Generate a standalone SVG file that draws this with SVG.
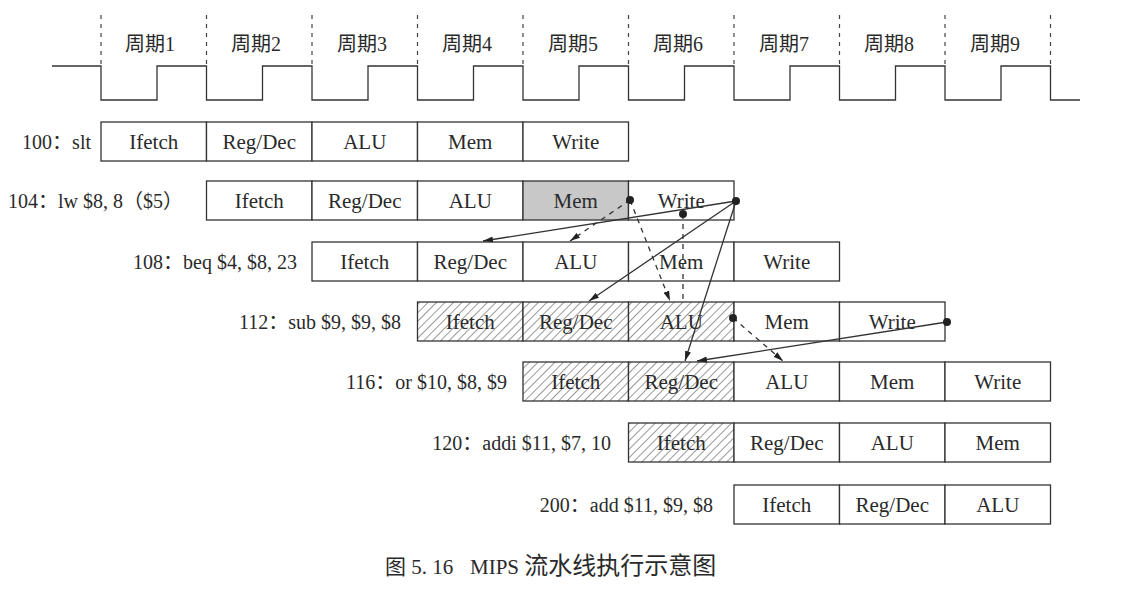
<svg xmlns="http://www.w3.org/2000/svg" width="1136" height="595" viewBox="0 0 1136 595">
<defs>
<style>
.cell{fill:#fff;stroke:#333;stroke-width:1.3}
.hat{fill:url(#hatch);stroke:#333;stroke-width:1.3}
.gray{fill:#c8c8c8;stroke:#333;stroke-width:1.3}
.t{font-family:"Liberation Serif","Noto Sans CJK SC",serif;font-size:21px;fill:#2a2a2a;text-anchor:middle}
.lbl{font-family:"Liberation Serif","Noto Sans CJK SC",serif;font-size:20px;fill:#2a2a2a;text-anchor:end}
.cyc{font-family:"Liberation Serif","Noto Sans CJK SC",serif;font-size:20px;fill:#2a2a2a;text-anchor:middle}
.cap{font-family:"Liberation Serif","Noto Sans CJK SC",serif;font-size:21px;fill:#2a2a2a}
.clk{fill:none;stroke:#333;stroke-width:1.3}
.grid{stroke:#444;stroke-width:1.2;stroke-dasharray:4 5}
.sol{stroke:#333;stroke-width:1.3;fill:none;marker-end:url(#ah)}
.dsh{stroke:#333;stroke-width:1.3;fill:none;stroke-dasharray:5 5;marker-end:url(#ah)}
.dshn{stroke:#333;stroke-width:1.3;fill:none;stroke-dasharray:5 5}
.dot{fill:#222}
</style>
<pattern id="hatch" width="6" height="6" patternUnits="userSpaceOnUse" patternTransform="rotate(45)"><rect width="6" height="6" fill="#fff"/><line x1="0" y1="0" x2="0" y2="6" stroke="#444" stroke-width="1.1"/></pattern>
<marker id="ah" viewBox="0 0 10 7" refX="10" refY="3.5" markerWidth="10" markerHeight="7" markerUnits="userSpaceOnUse" orient="auto"><path d="M0,0.5 L10,3.5 L0,6.5 z" fill="#222"/></marker>
</defs>
<rect width="1136" height="595" fill="#fff"/>

<g id="clock">
<g class="grid">
<line x1="101" y1="15" x2="101" y2="66"/>
<line x1="206.5" y1="15" x2="206.5" y2="66"/>
<line x1="312" y1="15" x2="312" y2="66"/>
<line x1="417.5" y1="15" x2="417.5" y2="66"/>
<line x1="523" y1="15" x2="523" y2="66"/>
<line x1="628.5" y1="15" x2="628.5" y2="66"/>
<line x1="734" y1="15" x2="734" y2="66"/>
<line x1="839.5" y1="15" x2="839.5" y2="66"/>
<line x1="945" y1="15" x2="945" y2="66"/>
<line x1="1050.5" y1="15" x2="1050.5" y2="66"/>
</g>
<polyline class="clk" points="52,66 101,66 101,100 157,100 157,66 206.5,66 206.5,100 262.5,100 262.5,66 312,66 312,100 368,100 368,66 417.5,66 417.5,100 473.5,100 473.5,66 523,66 523,100 579,100 579,66 628.5,66 628.5,100 684.5,100 684.5,66 734,66 734,100 790,100 790,66 839.5,66 839.5,100 895.5,100 895.5,66 945,66 945,100 1001,100 1001,66 1050.5,66 1050.5,100 1080,100"/>
<text class="cyc" x="150" y="51">周期1</text>
<text class="cyc" x="256" y="51">周期2</text>
<text class="cyc" x="362" y="51">周期3</text>
<text class="cyc" x="467" y="51">周期4</text>
<text class="cyc" x="573" y="51">周期5</text>
<text class="cyc" x="678" y="51">周期6</text>
<text class="cyc" x="784" y="51">周期7</text>
<text class="cyc" x="889" y="51">周期8</text>
<text class="cyc" x="995" y="51">周期9</text>
</g>

<g id="instr-100">
<text class="lbl" x="91" y="149">100：slt</text>
<rect class="cell" x="101" y="122" width="105.5" height="39"/>
<rect class="cell" x="206.5" y="122" width="105.5" height="39"/>
<rect class="cell" x="312" y="122" width="105.5" height="39"/>
<rect class="cell" x="417.5" y="122" width="105.5" height="39"/>
<rect class="cell" x="523" y="122" width="105.5" height="39"/>
<text class="t" x="153.75" y="149">Ifetch</text>
<text class="t" x="259.25" y="149">Reg/Dec</text>
<text class="t" x="364.75" y="149">ALU</text>
<text class="t" x="470.25" y="149">Mem</text>
<text class="t" x="575.75" y="149">Write</text>
</g>

<g id="instr-104">
<text class="lbl" x="183" y="208">104：lw $8, 8（$5）</text>
<rect class="cell" x="206.5" y="181" width="105.5" height="39"/>
<rect class="cell" x="312" y="181" width="105.5" height="39"/>
<rect class="cell" x="417.5" y="181" width="105.5" height="39"/>
<rect class="gray" x="523" y="181" width="105.5" height="39"/>
<rect class="cell" x="628.5" y="181" width="105.5" height="39"/>
<text class="t" x="259.25" y="208">Ifetch</text>
<text class="t" x="364.75" y="208">Reg/Dec</text>
<text class="t" x="470.25" y="208">ALU</text>
<text class="t" x="575.75" y="208">Mem</text>
<text class="t" x="681.25" y="208">Write</text>
</g>

<g id="instr-108">
<text class="lbl" x="297" y="269">108：beq $4, $8, 23</text>
<rect class="cell" x="312" y="242" width="105.5" height="39"/>
<rect class="cell" x="417.5" y="242" width="105.5" height="39"/>
<rect class="cell" x="523" y="242" width="105.5" height="39"/>
<rect class="cell" x="628.5" y="242" width="105.5" height="39"/>
<rect class="cell" x="734" y="242" width="105.5" height="39"/>
<text class="t" x="364.75" y="269">Ifetch</text>
<text class="t" x="470.25" y="269">Reg/Dec</text>
<text class="t" x="575.75" y="269">ALU</text>
<text class="t" x="681.25" y="269">Mem</text>
<text class="t" x="786.75" y="269">Write</text>
</g>

<g id="instr-112">
<text class="lbl" x="401" y="329">112：sub $9, $9, $8</text>
<rect class="hat" x="417.5" y="302" width="105.5" height="39"/>
<rect class="hat" x="523" y="302" width="105.5" height="39"/>
<rect class="hat" x="628.5" y="302" width="105.5" height="39"/>
<rect class="cell" x="734" y="302" width="105.5" height="39"/>
<rect class="cell" x="839.5" y="302" width="105.5" height="39"/>
<text class="t" x="470.25" y="329">Ifetch</text>
<text class="t" x="575.75" y="329">Reg/Dec</text>
<text class="t" x="681.25" y="329">ALU</text>
<text class="t" x="786.75" y="329">Mem</text>
<text class="t" x="892.25" y="329">Write</text>
</g>

<g id="instr-116">
<text class="lbl" x="507" y="389">116：or $10, $8, $9</text>
<rect class="hat" x="523" y="362" width="105.5" height="39"/>
<rect class="hat" x="628.5" y="362" width="105.5" height="39"/>
<rect class="cell" x="734" y="362" width="105.5" height="39"/>
<rect class="cell" x="839.5" y="362" width="105.5" height="39"/>
<rect class="cell" x="945" y="362" width="105.5" height="39"/>
<text class="t" x="575.75" y="389">Ifetch</text>
<text class="t" x="681.25" y="389">Reg/Dec</text>
<text class="t" x="786.75" y="389">ALU</text>
<text class="t" x="892.25" y="389">Mem</text>
<text class="t" x="997.75" y="389">Write</text>
</g>

<g id="instr-120">
<text class="lbl" x="611" y="450">120：addi $11, $7, 10</text>
<rect class="hat" x="628.5" y="423" width="105.5" height="39"/>
<rect class="cell" x="734" y="423" width="105.5" height="39"/>
<rect class="cell" x="839.5" y="423" width="105.5" height="39"/>
<rect class="cell" x="945" y="423" width="105.5" height="39"/>
<text class="t" x="681.25" y="450">Ifetch</text>
<text class="t" x="786.75" y="450">Reg/Dec</text>
<text class="t" x="892.25" y="450">ALU</text>
<text class="t" x="997.75" y="450">Mem</text>
</g>

<g id="instr-200">
<text class="lbl" x="713" y="512">200：add $11, $9, $8</text>
<rect class="cell" x="734" y="485" width="105.5" height="39"/>
<rect class="cell" x="839.5" y="485" width="105.5" height="39"/>
<rect class="cell" x="945" y="485" width="105.5" height="39"/>
<text class="t" x="786.75" y="512">Ifetch</text>
<text class="t" x="892.25" y="512">Reg/Dec</text>
<text class="t" x="997.75" y="512">ALU</text>
</g>

<g id="connectors">
<line class="sol" x1="736" y1="201" x2="483" y2="241"/>
<line class="dsh" x1="630" y1="200" x2="570" y2="241"/>
<line class="dsh" x1="630" y1="200" x2="670" y2="301"/>
<line class="dshn" x1="683" y1="214" x2="683" y2="301"/>
<line class="sol" x1="736" y1="201" x2="589" y2="301"/>
<line class="sol" x1="736" y1="201" x2="685" y2="361"/>
<line class="dsh" x1="733" y1="318" x2="783" y2="361"/>
<line class="sol" x1="947" y1="322" x2="697" y2="361"/>
<circle class="dot" cx="630" cy="200" r="4"/>
<circle class="dot" cx="736" cy="201" r="4"/>
<circle class="dot" cx="683" cy="214" r="4"/>
<circle class="dot" cx="733" cy="318" r="4"/>
<circle class="dot" cx="947" cy="322" r="4"/>
</g>

<g id="caption">
<text class="cap" x="385" y="574">图 5. 16</text>
<text class="cap" x="470" y="574">MIPS <tspan font-size="24px">流水线执行示意图</tspan></text>
</g>
</svg>
